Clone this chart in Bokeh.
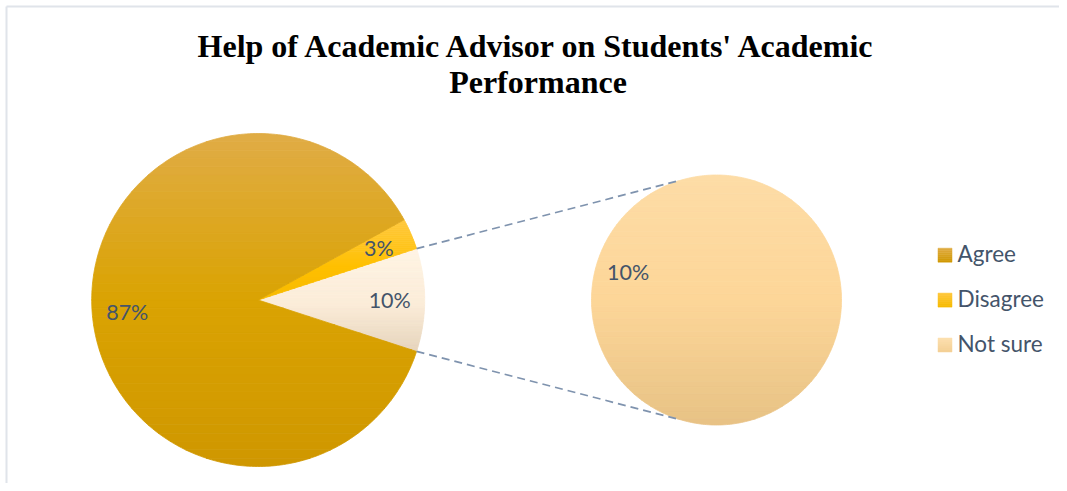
import numpy as np
from bokeh.plotting import figure
from bokeh.models import Range1d
from bokeh.core.properties import value
from bokeh.embed import file_html
from bokeh.resources import INLINE

# ---------------- data ----------------
title_lines = ["Help of Academic Advisor on Students' Academic", "Performance"]
categories = ["Agree", "Disagree", "Not sure"]
shares = [87, 3, 10]
labels = ["87%", "3%", "10%"]
sub_categories = ["Not sure"]
sub_shares = [10]
sub_labels = ["10%"]

# ---------------- styles ----------------
W, H = 1059, 483
def Y(img_y):
    return H - img_y

slice_stops = {
    "Agree": [(0.0, "#E0AC46"), (0.5, "#DAA302"), (1.0, "#CF9700")],
    "Disagree": [(0.0, "#FFC940"), (0.6, "#FFC000"), (1.0, "#F7BA00")],
    "Not sure": [(0.0, "#FFF4E4"), (0.55, "#FBECD8"), (1.0, "#E6D4BC")],
}
sub_stops = [(0.0, "#FDDCA6"), (0.5, "#FDD698"), (1.0, "#E7C285")]
legend_stops = {
    "Agree": [(0.0, "#DFAB43"), (1.0, "#D09800")],
    "Disagree": [(0.0, "#FFC83E"), (1.0, "#F6BA00")],
    "Not sure": [(0.0, "#FDE0B0"), (1.0, "#F3CF95")],
}
text_color = "#44546A"
label_font = "Lato"

def hex2rgb(h):
    h = h.lstrip("#")
    return np.array([int(h[i:i + 2], 16) for i in (0, 2, 4)], dtype=float)

def grad(stops, t):
    for (p0, c0), (p1, c1) in zip(stops[:-1], stops[1:]):
        if t <= p1:
            u = 0 if p1 == p0 else (t - p0) / (p1 - p0)
            c = hex2rgb(c0) * (1 - u) + hex2rgb(c1) * u
            return "#%02x%02x%02x" % tuple(int(round(v)) for v in c)
    c = hex2rgb(stops[-1][1])
    return "#%02x%02x%02x" % tuple(int(v) for v in c)

def clip(poly, y, keep_above):
    out = []
    n = len(poly)
    for i in range(n):
        P, Q = poly[i], poly[(i + 1) % n]
        inP = P[1] >= y if keep_above else P[1] <= y
        inQ = Q[1] >= y if keep_above else Q[1] <= y
        if inP:
            out.append(P)
        if inP != inQ:
            t = (y - P[1]) / (Q[1] - P[1])
            out.append((P[0] + t * (Q[0] - P[0]), y))
    return out

def banded(poly, stops, nb=40):
    ys = [p[1] for p in poly]
    ymin, ymax = min(ys), max(ys)
    xs_out, ys_out, cols = [], [], []
    edges = np.linspace(ymax, ymin, nb + 1)
    for k in range(nb):
        top, bot = edges[k], edges[k + 1]
        pp = clip(clip(poly, bot, True), top, False)
        if len(pp) < 3:
            continue
        xs_out.append([p[0] for p in pp])
        ys_out.append([p[1] for p in pp])
        cols.append(grad(stops, (k + 0.5) / nb))
    return xs_out, ys_out, cols

def wedge_poly(cx, cy, r, a0, a1, with_center=True):
    n = max(8, int(abs(a1 - a0) / (2 * np.pi) * 360))
    ang = np.linspace(a0, a1, n)
    pts = [(cx + r * np.cos(a), cy + r * np.sin(a)) for a in ang]
    if with_center:
        pts = [(cx, cy)] + pts
    return pts

# ---------------- figure ----------------
p = figure(width=W, height=H, output_backend="svg", toolbar_location=None,
           x_range=Range1d(0, W), y_range=Range1d(0, H),
           x_axis_location=None, y_axis_location=None,
           min_border=0, outline_line_color=None, background_fill_color="white")
p.grid.visible = False

# chart border (top & left visible)
p.segment(x0=[6, 6], y0=[Y(6), Y(6)], x1=[W, 6], y1=[Y(6), 0],
          line_color="#E0E4EA", line_width=2)

# title
for k, yy in enumerate([45.5, 81.5]):
    p.text(x=[537.5], y=[Y(yy)], text=[title_lines[k]], text_align="center",
           text_baseline="alphabetic", text_font=value("Liberation Serif"),
           text_font_style="bold", text_font_size="32px", text_color="black")

# main pie
cx1, cy1, r1 = 257.7, Y(299.5), 166.5
total = float(sum(shares))
order = [categories.index("Not sure"), categories.index("Disagree"), categories.index("Agree")]
a = -np.pi * shares[order[0]] / total
angles = {}
for i in order:
    a0 = a
    a1 = a + 2 * np.pi * shares[i] / total
    angles[i] = (a0, a1)
    a = a1

all_xs, all_ys, all_c = [], [], []
for i in order:
    a0, a1 = angles[i]
    poly = wedge_poly(cx1, cy1, r1, a0, a1)
    xs, ys, cs = banded(poly, slice_stops[categories[i]])
    all_xs += xs; all_ys += ys; all_c += cs
p.patches(xs=all_xs, ys=all_ys, fill_color=all_c, line_color=all_c, line_width=0.8)

fs = 21.5
lx, ly, lt = [], [], []
for i in order:
    a0, a1 = angles[i]
    m = 0.5 * (a0 + a1)
    lx.append(cx1 + 0.79 * r1 * np.cos(m))
    ly.append(cy1 + 0.79 * r1 * np.sin(m))
    lt.append(labels[i])
p.text(x=lx, y=ly, text=lt, text_align="center", text_baseline="alphabetic",
       text_font=value(label_font), text_font_size=f"{fs}px", text_color=text_color)

# secondary pie
cx2, cy2, r2 = 716.0, Y(299.5), 125.0
sub_total = float(sum(sub_shares))
a = np.pi / 2
sx, sy, sc = [], [], []
sub_lx, sub_ly = [], []
for j, v in enumerate(sub_shares):
    a0 = a
    a1 = a + 2 * np.pi * v / sub_total
    full = abs(a1 - a0) >= 2 * np.pi - 1e-9
    poly = wedge_poly(cx2, cy2, r2, a0, a1, with_center=not full)
    xs, ys, cs = banded(poly, sub_stops)
    sx += xs; sy += ys; sc += cs
    la = np.deg2rad(162.7)
    sub_lx.append(cx2 + 0.74 * r2 * np.cos(la))
    sub_ly.append(cy2 + 0.74 * r2 * np.sin(la))
    a = a1
p.patches(xs=sx, ys=sy, fill_color=sc, line_color=sc, line_width=0.8)
p.text(x=sub_lx, y=sub_ly, text=sub_labels, text_align="center", text_baseline="alphabetic",
       text_font=value(label_font), text_font_size=f"{fs}px", text_color=text_color)

# connector lines
ns = categories.index("Not sure")
b0, b1 = angles[ns]
t2 = np.deg2rad(106.6)
p.segment(x0=[cx1 + r1 * np.cos(b1), cx1 + r1 * np.cos(b0)],
          y0=[cy1 + r1 * np.sin(b1), cy1 + r1 * np.sin(b0)],
          x1=[cx2 + r2 * np.cos(t2), cx2 + r2 * np.cos(-t2)],
          y1=[cy2 + r2 * np.sin(t2), cy2 + r2 * np.sin(-t2)],
          line_color="#7F93AE", line_width=1.75, line_dash="8 5")

# legend
lg_x, lg_size = 944.5, 14.0
row_y = [Y(254.7), Y(299.6), Y(344.5)]
gx, gy, gc = [], [], []
for k, cat in enumerate(categories):
    yc = row_y[k]
    sq = [(lg_x - lg_size / 2, yc - lg_size / 2), (lg_x + lg_size / 2, yc - lg_size / 2),
          (lg_x + lg_size / 2, yc + lg_size / 2), (lg_x - lg_size / 2, yc + lg_size / 2)]
    xs, ys, cs = banded(sq, legend_stops[cat], nb=7)
    gx += xs; gy += ys; gc += cs
p.patches(xs=gx, ys=gy, fill_color=gc, line_color=gc, line_width=0.5)
lfs = 22.5
p.text(x=[957] * len(categories), y=[yv + 2 for yv in row_y], text=categories,
       text_align="left", text_baseline="alphabetic", text_font=value(label_font),
       text_font_size=f"{lfs}px", text_color=text_color)

open("out.html", "w").write(file_html(p, INLINE))
